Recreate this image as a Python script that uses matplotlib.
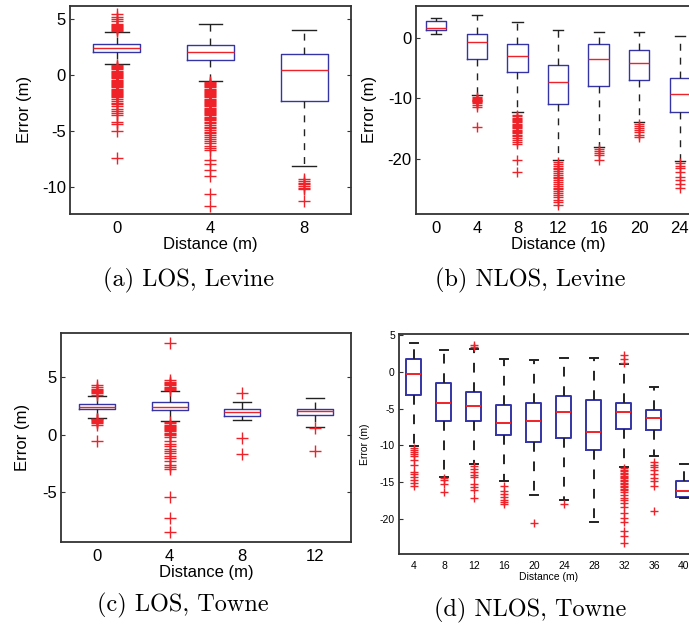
import matplotlib
matplotlib.use("Agg")
import matplotlib.pyplot as plt

plt.rcParams['font.family'] = ['Liberation Sans', 'DejaVu Sans']
plt.rcParams['axes.unicode_minus'] = False

# ---- (a) LOS, Levine ----
labels_a = ['0', '4', '8']
whislo_a = [0.98, -0.56, -8.08]
q1_a = [2.04, 1.36, -2.30]
med_a = [2.40, 2.04, 0.44]
q3_a = [2.75, 2.70, 1.90]
whishi_a = [3.85, 4.60, 4.00]
fliers_a = [
    [3.9, 4.0, 4.1, 4.2, 4.3, 4.4, 4.5, 4.6, 4.8, 5.0, 5.2, 5.45,
     0.9, 0.8, 0.7, 0.6, 0.5, 0.4, 0.3, 0.2, 0.1, 0.0, -0.1, -0.2, -0.3, -0.4,
     -0.5, -0.6, -0.7, -0.8, -0.9, -1.0, -1.1, -1.2, -1.3, -1.4, -1.5, -1.6,
     -1.7, -1.8, -1.9, -2.0, -2.15, -2.3, -2.45, -2.6, -2.8, -3.0, -3.2,
     -3.4, -3.6, -4.2, -4.4, -5.0, -7.4],
    [-0.6, -0.7, -0.8, -0.9, -1.0, -1.1, -1.2, -1.3, -1.4, -1.5, -1.6, -1.7,
     -1.8, -1.9, -2.0, -2.1, -2.2, -2.3, -2.4, -2.5, -2.6, -2.7, -2.8, -2.9,
     -3.0, -3.1, -3.2, -3.3, -3.4, -3.5, -3.6, -3.7, -3.8, -3.9, -4.0, -4.15,
     -4.3, -4.45, -4.6, -4.75, -4.9, -5.05, -5.2, -5.35, -5.5, -5.7, -5.9,
     -6.1, -6.3, -6.5, -6.7, -7.6, -7.9, -8.5, -9.0, -10.6, -11.65],
    [-9.3, -9.45, -9.6, -9.75, -9.9, -10.05, -10.2, -11.2],
]

# ---- (b) NLOS, Levine ----
labels_b = ['0', '4', '8', '12', '16', '20', '24']
whislo_b = [0.77, -9.5, -12.3, -20.2, -18.0, -13.9, -20.4]
q1_b = [1.38, -3.54, -5.69, -10.94, -8.01, -6.90, -12.20]
med_b = [1.70, -0.66, -2.93, -7.29, -3.43, -4.09, -9.23]
q3_b = [2.80, 0.72, -0.94, -4.42, -0.94, -2.04, -6.57]
whishi_b = [3.37, 3.76, 2.76, 1.27, 0.94, 0.94, 0.33]
fliers_b = [
    [],
    [-9.8, -10.0, -10.1, -10.2, -10.3, -10.4, -10.5, -10.6, -10.8, -11.1,
     -11.4, -14.75],
    [-12.8, -13.0, -13.2, -13.4, -13.6, -13.8, -14.0, -14.2, -14.4, -14.6,
     -14.8, -15.0, -15.2, -15.4, -15.6, -15.8, -16.0, -16.3, -16.6, -16.9,
     -17.2, -17.5, -20.2, -22.2],
    [-20.6, -20.9, -21.2, -21.5, -21.8, -22.1, -22.4, -22.7, -23.0, -23.3,
     -23.6, -23.9, -24.2, -24.5, -24.8, -25.1, -25.4, -25.7, -26.0, -26.4,
     -26.8, -27.2, -27.7],
    [-18.4, -18.7, -19.0, -19.4, -20.3],
    [-14.3, -14.6, -14.9, -15.2, -15.6, -16.0, -16.4],
    [-20.8, -21.2, -21.6, -22.3, -23.1, -23.6, -24.2, -24.8],
]

# ---- (c) LOS, Towne ----
labels_c = ['0', '4', '8', '12']
whislo_c = [1.50, 1.18, 1.30, 0.72]
q1_c = [2.23, 2.17, 1.65, 1.70]
med_c = [2.46, 2.46, 2.00, 2.08]
q3_c = [2.69, 2.83, 2.23, 2.28]
whishi_c = [3.41, 3.81, 2.83, 3.18]
fliers_c = [
    [3.5, 3.6, 3.7, 3.8, 3.9, 4.0, 4.15, 4.3,
     1.42, 1.35, 1.28, 1.2, 1.1, 1.0, 0.9, -0.49],
    [3.9, 4.0, 4.1, 4.2, 4.3, 4.4, 4.5, 4.6, 4.75, 8.0,
     1.1, 1.0, 0.9, 0.8, 0.7, 0.6, 0.5, 0.4, 0.3, 0.2, 0.1, 0.0, -0.2,
     -0.5, -0.8, -1.0, -1.2, -1.4, -1.6, -1.8, -2.0, -2.3, -2.6, -2.8,
     -3.0, -5.4, -7.2, -8.44],
    [3.6, -0.23, -1.68],
    [0.58, -1.39],
]

# ---- (d) NLOS, Towne ----
labels_d = ['4', '8', '12', '16', '20', '24', '28', '32', '36', '40']
whislo_d = [-10.1, -14.3, -12.5, -14.8, -16.7, -17.5, -20.45, -13.0, -11.4, -17.2]
q1_d = [-3.14, -6.60, -6.73, -8.64, -9.55, -8.95, -10.6, -7.80, -7.86, -17.0]
med_d = [-0.23, -4.23, -4.64, -7.00, -6.70, -5.40, -8.20, -5.45, -6.20, -16.2]
q3_d = [1.73, -1.50, -2.77, -4.45, -4.20, -3.27, -3.80, -4.27, -5.10, -14.8]
whishi_d = [3.90, 3.05, 3.10, 1.82, 1.60, 1.86, 1.90, 1.05, -2.05, -12.5]
fliers_d = [
    [-10.3, -10.6, -10.9, -11.2, -11.5, -12.0, -12.6, -13.6, -13.9, -14.3,
     -14.7, -15.1, -15.5],
    [-14.4, -14.7, -15.2, -16.4],
    [3.4, 3.7, -12.8, -13.2, -13.6, -14.0, -14.3, -15.2, -15.6, -16.1, -17.2],
    [-15.5, -16.2, -16.6, -17.0, -17.4, -17.7, -18.0],
    [-20.6],
    [-18.05],
    [],
    [2.3, 1.8, 1.3, -13.1, -13.3, -13.5, -13.7, -13.9, -14.1, -14.3, -14.5,
     -14.7, -14.9, -15.1, -15.3, -15.5, -15.7, -15.9, -16.1, -16.4, -16.7,
     -17.1, -17.5, -17.9, -18.4, -19.2, -19.9, -20.5, -21.7, -22.3, -23.3],
    [-12.2, -12.6, -13.0, -13.4, -13.9, -14.4, -14.9, -15.5, -19.0],
    [],
]

captions = ['(a) LOS, Levine', '(b) NLOS, Levine', '(c) LOS, Towne', '(d) NLOS, Towne']

BLUE = '#3434a6'
RED = '#ee2228'


def draw_box(ax, labels, lo, q1, med, q3, hi, fliers, ylim, yticks,
             fs, ms, lw, ylab_x, xlab_y):
    stats = []
    for i in range(len(labels)):
        stats.append(dict(whislo=lo[i], q1=q1[i], med=med[i], q3=q3[i],
                          whishi=hi[i], fliers=fliers[i]))
    n = len(labels)
    ax.bxp(stats, positions=range(1, n + 1), widths=0.5, capwidths=[0.25] * n,
           boxprops=dict(color=BLUE, lw=lw),
           medianprops=dict(color=RED, lw=lw),
           whiskerprops=dict(color='#222222', lw=lw, linestyle=(0, (5, 5))),
           capprops=dict(color='#222222', lw=lw),
           flierprops=dict(marker='+', markeredgecolor=RED, markersize=ms,
                           markeredgewidth=1.0, linestyle='none'))
    ax.set_xlim(0.5, n + 0.5)
    ax.set_ylim(*ylim)
    ax.set_yticks(yticks)
    ax.set_xticks(range(1, n + 1))
    ax.set_xticklabels(labels)
    ax.tick_params(axis='y', direction='in', length=3, right=True,
                   labelsize=fs, pad=3, color='#333333')
    ax.tick_params(axis='x', length=0, labelsize=fs, pad=5)
    for s in ax.spines.values():
        s.set_linewidth(1.3)
        s.set_color('#333333')
    ax.set_xlabel('Distance (m)', fontsize=fs)
    ax.set_ylabel('Error (m)', fontsize=fs)
    ax.yaxis.set_label_coords(ylab_x, 0.5)
    ax.xaxis.set_label_coords(0.5, xlab_y)


fig = plt.figure(figsize=(6.89, 6.24), dpi=100)

ax_a = fig.add_axes([0.1016, 0.657, 0.4078, 0.334])
draw_box(ax_a, labels_a, whislo_a, q1_a, med_a, q3_a, whishi_a, fliers_a,
         (-12.4, 6.2), [-10, -5, 0, 5], 12, 8, 1.0, -0.135, -0.11)

ax_b = fig.add_axes([0.6038, 0.657, 0.4122, 0.334])
draw_box(ax_b, labels_b, whislo_b, q1_b, med_b, q3_b, whishi_b, fliers_b,
         (-29.2, 5.4), [-20, -10, 0], 12, 7.5, 1.0, -0.137, -0.11)

ax_c = fig.add_axes([0.0885, 0.1314, 0.4209, 0.335])
draw_box(ax_c, labels_c, whislo_c, q1_c, med_c, q3_c, whishi_c, fliers_c,
         (-9.3, 8.85), [-5, 0, 5], 12, 8, 1.0, -0.107, -0.11)

ax_d = fig.add_axes([0.5791, 0.1122, 0.4354, 0.3526])
draw_box(ax_d, labels_d, whislo_d, q1_d, med_d, q3_d, whishi_d, fliers_d,
         (-24.8, 5.2), [-20, -15, -10, -5, 0, 5], 7.5, 5.5, 1.4, -0.097, -0.082)

cap_pos = [(189, 280), (530, 280), (183, 605), (530, 610)]
for txt, (px, py) in zip(captions, cap_pos):
    fig.text(px / 689, 1 - py / 624, txt, family='cmr10', fontsize=17.5,
             ha='center', va='center')

fig.savefig('out.png', dpi=100)
